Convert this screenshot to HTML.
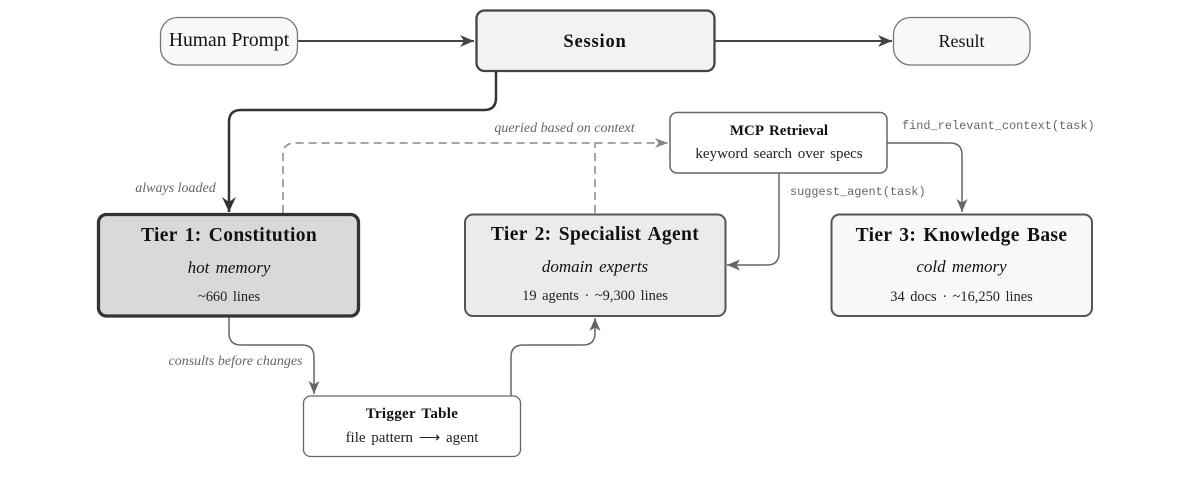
<!DOCTYPE html>
<html>
<head>
<meta charset="utf-8">
<style>
html,body{margin:0;padding:0;background:#fff}
svg{display:block}
text{font-family:"Liberation Serif",serif;text-anchor:middle;fill:#111;word-spacing:2px}
.mono{font-family:"Liberation Mono",monospace;font-size:11.9px;fill:#666;text-anchor:start;word-spacing:0}
.lab{font-style:italic;font-size:14px;fill:#666;word-spacing:0}
.t{font-weight:bold;font-size:19.500px;letter-spacing:.35px}
.s{font-style:italic;font-size:17px}
.d{font-size:14.400px;fill:#222}
.b{font-weight:bold;font-size:15px}
.n{font-size:15px;fill:#222}
path{fill:none}
</style>
</head>
<body>
<svg width="1200" height="480" viewBox="0 0 1200 480" xmlns="http://www.w3.org/2000/svg">
<defs>
<marker id="a1" markerUnits="userSpaceOnUse" markerWidth="16" markerHeight="14" refX="14" refY="7" orient="auto"><path d="M0,1 L14,7 L0,13 L4,7 Z" style="fill:#444"/></marker>
<marker id="a2" markerUnits="userSpaceOnUse" markerWidth="16" markerHeight="16" refX="15" refY="8" orient="auto"><path d="M0,1 L15,8 L0,15 L5,8 Z" style="fill:#333"/></marker>
<marker id="a3" markerUnits="userSpaceOnUse" markerWidth="14" markerHeight="14" refX="13" refY="6" orient="auto"><path d="M0,0.5 L13,6 L0,11.5 L3.5,6 Z" style="fill:#666"/></marker>
<marker id="a4" markerUnits="userSpaceOnUse" markerWidth="14" markerHeight="14" refX="13" refY="6" orient="auto"><path d="M0,1 L13,6 L0,11 L3.5,6 Z" style="fill:#888"/></marker>
</defs>

<!-- connectors -->
<path d="M298 41 H474" stroke="#444" stroke-width="2" marker-end="url(#a1)"/>
<path d="M715 41 H892" stroke="#444" stroke-width="2" marker-end="url(#a1)"/>
<path d="M496 71 V98 Q496 110 484 110 H241 Q229 110 229 122 V212" stroke="#333" stroke-width="2.500" marker-end="url(#a2)"/>
<path d="M283 213 V155 Q283 143 295 143 H668" stroke="#888" stroke-width="1.500" stroke-dasharray="8 5" marker-end="url(#a4)"/>
<path d="M595 213 V143" stroke="#888" stroke-width="1.500" stroke-dasharray="8 5"/>
<path d="M887 143 H950 Q962 143 962 155 V212" stroke="#666" stroke-width="1.500" marker-end="url(#a3)"/>
<path d="M779 173 V253 Q779 265 767 265 H727" stroke="#666" stroke-width="1.500" marker-end="url(#a3)"/>
<path d="M229 316 V333 Q229 345 241 345 H302 Q314 345 314 357 V394" stroke="#666" stroke-width="1.500" marker-end="url(#a3)"/>
<path d="M511 396 V357 Q511 345 523 345 H583 Q595 345 595 333 V318" stroke="#666" stroke-width="1.500" marker-end="url(#a3)"/>

<!-- top row -->
<rect x="160.500" y="17.500" width="137" height="47.500" rx="17" fill="#f8f8f8" stroke="#777" stroke-width="1.300"/>
<text x="229" y="46" style="font-size:19.600px;word-spacing:0">Human Prompt</text>
<rect x="476.500" y="10.500" width="238" height="60.500" rx="8" fill="#f2f2f2" stroke="#444" stroke-width="2.300"/>
<text x="595" y="47" style="font-size:18.500px;font-weight:bold;letter-spacing:.8px">Session</text>
<rect x="893.500" y="17.500" width="136.500" height="47.500" rx="17" fill="#f8f8f8" stroke="#777" stroke-width="1.300"/>
<text x="961.500" y="47" style="font-size:18px">Result</text>

<!-- MCP -->
<rect x="670" y="112.500" width="217" height="60.500" rx="7" fill="#fff" stroke="#666" stroke-width="1.500"/>
<text x="779" y="135" class="b">MCP Retrieval</text>
<text x="779" y="158" class="n">keyword search over specs</text>

<!-- tiers -->
<rect x="98.500" y="214.500" width="260" height="101.500" rx="8" fill="#d9d9d9" stroke="#333" stroke-width="3.300"/>
<text x="229" y="241" class="t">Tier 1: Constitution</text>
<text x="229" y="273" class="s">hot memory</text>
<text x="229" y="301" class="d">~660 lines</text>

<rect x="465" y="214.500" width="260.500" height="101.500" rx="8" fill="#ebebeb" stroke="#555" stroke-width="2"/>
<text x="595" y="240" class="t">Tier 2: Specialist Agent</text>
<text x="595" y="272" class="s">domain experts</text>
<text x="595" y="300" class="d">19 agents · ~9,300 lines</text>

<rect x="831.500" y="214.500" width="260.500" height="101.500" rx="8" fill="#f8f8f8" stroke="#555" stroke-width="2"/>
<text x="961.500" y="241" class="t">Tier 3: Knowledge Base</text>
<text x="961.500" y="272" class="s">cold memory</text>
<text x="961.500" y="301" class="d">34 docs · ~16,250 lines</text>

<!-- trigger -->
<rect x="303.500" y="396" width="217" height="60.500" rx="7" fill="#fff" stroke="#666" stroke-width="1.300"/>
<text x="412" y="418" class="b" style="letter-spacing:.3px">Trigger Table</text>
<text x="412" y="442" class="n">file pattern ⟶ agent</text>

<!-- labels -->
<text x="175.500" y="192" class="lab">always loaded</text>
<text x="564.500" y="132" class="lab">queried based on context</text>
<text x="235.500" y="365" class="lab">consults before changes</text>
<text x="902" y="129" class="mono">find_relevant_context(task)</text>
<text x="790" y="195" class="mono">suggest_agent(task)</text>
</svg>
</body>
</html>
